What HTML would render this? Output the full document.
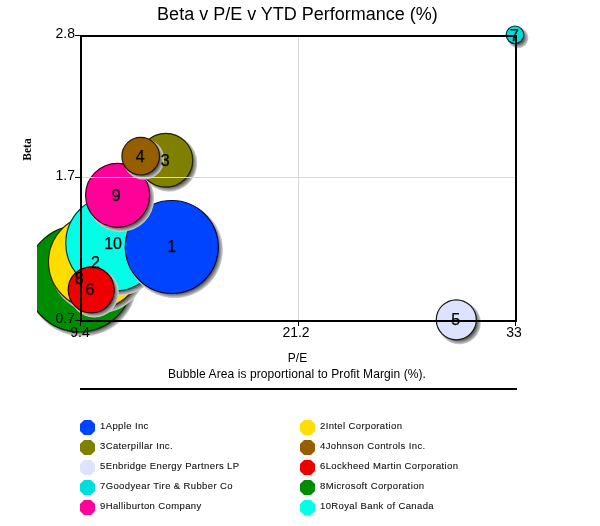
<!DOCTYPE html>
<html><head><meta charset="utf-8">
<style>
html,body{margin:0;padding:0;background:#fff;width:600px;height:526px;overflow:hidden}
svg{display:block;will-change:transform}
text{font-family:"Liberation Sans",sans-serif}
</style></head>
<body>
<svg width="600" height="526" viewBox="0 0 600 526">
<defs>
<filter id="sh" x="-30%" y="-30%" width="160%" height="160%"><feGaussianBlur stdDeviation="1.4"/></filter>
<clipPath id="pc"><rect x="37" y="0" width="563" height="400"/></clipPath>
</defs>
<text x="297.5" y="20" font-size="18" text-anchor="middle" fill="#000">Beta v P/E v YTD Performance (%)</text>
<g clip-path="url(#pc)">

<radialGradient id="g8" cx="0.5" cy="0.5" r="0.5"><stop offset="0" stop-color="#333"/><stop offset="0.8847" stop-color="#333"/><stop offset="0.9366" stop-color="#7a7a7a"/><stop offset="1" stop-color="#d6d6d6"/></radialGradient>
<circle cx="82.4" cy="281.6" r="54.9" fill="url(#g8)"/>
<circle cx="79.4" cy="278.6" r="53.3" fill="#008c00" stroke="#002800" stroke-width="1.2"/>
<radialGradient id="g2" cx="0.5" cy="0.5" r="0.5"><stop offset="0" stop-color="#333"/><stop offset="0.8698" stop-color="#333"/><stop offset="0.9284" stop-color="#7a7a7a"/><stop offset="1" stop-color="#d6d6d6"/></radialGradient>
<circle cx="98.5" cy="264.8" r="48.6" fill="url(#g2)"/>
<circle cx="95.5" cy="261.8" r="47.0" fill="#ffdd00" stroke="#3a2a00" stroke-width="1.2"/>
<radialGradient id="g10" cx="0.5" cy="0.5" r="0.5"><stop offset="0" stop-color="#333"/><stop offset="0.8719" stop-color="#333"/><stop offset="0.9295" stop-color="#7a7a7a"/><stop offset="1" stop-color="#d6d6d6"/></radialGradient>
<circle cx="116.6" cy="246.3" r="49.4" fill="url(#g10)"/>
<circle cx="113.6" cy="243.3" r="47.8" fill="#00ffe6" stroke="#004040" stroke-width="1.2"/>
<radialGradient id="g1" cx="0.5" cy="0.5" r="0.5"><stop offset="0" stop-color="#333"/><stop offset="0.8684" stop-color="#333"/><stop offset="0.9276" stop-color="#7a7a7a"/><stop offset="1" stop-color="#d6d6d6"/></radialGradient>
<circle cx="174.8" cy="250.0" r="48.1" fill="url(#g1)"/>
<circle cx="171.8" cy="247.0" r="46.5" fill="#0044ff" stroke="#000830" stroke-width="1.2"/>
<radialGradient id="g9" cx="0.5" cy="0.5" r="0.5"><stop offset="0" stop-color="#333"/><stop offset="0.8116" stop-color="#333"/><stop offset="0.8964" stop-color="#7a7a7a"/><stop offset="1" stop-color="#d6d6d6"/></radialGradient>
<circle cx="120.6" cy="198.3" r="33.6" fill="url(#g9)"/>
<circle cx="117.6" cy="195.3" r="32.0" fill="#ff0099" stroke="#400018" stroke-width="1.2"/>
<radialGradient id="g3" cx="0.5" cy="0.5" r="0.5"><stop offset="0" stop-color="#333"/><stop offset="0.7779" stop-color="#333"/><stop offset="0.8778" stop-color="#7a7a7a"/><stop offset="1" stop-color="#d6d6d6"/></radialGradient>
<circle cx="168.8" cy="163.2" r="28.5" fill="url(#g3)"/>
<circle cx="165.8" cy="160.2" r="26.9" fill="#808000" stroke="#282000" stroke-width="1.2"/>
<radialGradient id="g6" cx="0.5" cy="0.5" r="0.5"><stop offset="0" stop-color="#333"/><stop offset="0.7427" stop-color="#333"/><stop offset="0.8585" stop-color="#7a7a7a"/><stop offset="1" stop-color="#d6d6d6"/></radialGradient>
<circle cx="94.2" cy="292.8" r="24.6" fill="url(#g6)"/>
<circle cx="91.2" cy="289.8" r="23.0" fill="#ee0000" stroke="#300000" stroke-width="1.2"/>
<radialGradient id="g4" cx="0.5" cy="0.5" r="0.5"><stop offset="0" stop-color="#333"/><stop offset="0.6897" stop-color="#333"/><stop offset="0.8293" stop-color="#7a7a7a"/><stop offset="1" stop-color="#d6d6d6"/></radialGradient>
<circle cx="143.7" cy="159.2" r="20.4" fill="url(#g4)"/>
<circle cx="140.7" cy="156.2" r="18.8" fill="#955f00" stroke="#281800" stroke-width="1.2"/>
<radialGradient id="g5" cx="0.5" cy="0.5" r="0.5"><stop offset="0" stop-color="#333"/><stop offset="0.7069" stop-color="#333"/><stop offset="0.8388" stop-color="#7a7a7a"/><stop offset="1" stop-color="#d6d6d6"/></radialGradient>
<circle cx="459.3" cy="322.8" r="21.6" fill="url(#g5)"/>
<circle cx="456.3" cy="319.8" r="20.0" fill="#dde3ff" stroke="#181818" stroke-width="1.2"/>
<radialGradient id="g7" cx="0.5" cy="0.5" r="0.5"><stop offset="0" stop-color="#333"/><stop offset="0.3913" stop-color="#333"/><stop offset="0.6652" stop-color="#7a7a7a"/><stop offset="1" stop-color="#d6d6d6"/></radialGradient>
<circle cx="518.0" cy="37.8" r="10.4" fill="url(#g7)"/>
<circle cx="515.0" cy="34.8" r="8.8" fill="#00dddd" stroke="#002828" stroke-width="1.2"/>
</g>
<line x1="82" y1="177.5" x2="515" y2="177.5" stroke="#d8d8d8" stroke-width="1"/>
<line x1="298.5" y1="37" x2="298.5" y2="320" stroke="#d8d8d8" stroke-width="1"/>
<rect x="81" y="36" width="435" height="285" fill="none" stroke="#000" stroke-width="2"/>
<g stroke="#000" stroke-width="1">
<line x1="75" y1="35.5" x2="80" y2="35.5"/>
<line x1="75" y1="177.5" x2="80" y2="177.5"/>
<line x1="75" y1="320.5" x2="80" y2="320.5"/>
<line x1="80.5" y1="322" x2="80.5" y2="326"/>
<line x1="298.5" y1="322" x2="298.5" y2="326"/>
<line x1="515.5" y1="322" x2="515.5" y2="326"/>
</g>

<g font-size="16" text-anchor="middle" fill="#000" stroke="#000" stroke-width="0.25">
<text x="171.8" y="251.7">1</text>
<text x="95.5" y="267.5">2</text>
<text x="165.3" y="165.9">3</text>
<text x="140.2" y="161.9">4</text>
<text x="455.7" y="324.7">5</text>
<text x="89.9" y="295.3">6</text>
<text x="514.5" y="40.5">7</text>
<text x="79.1" y="284.3">8</text>
<text x="116.2" y="201.0">9</text>
<text x="113.1" y="249.0">10</text>
</g>
<g font-size="14" fill="#000">
<text x="75" y="38" text-anchor="end">2.8</text>
<text x="75" y="180" text-anchor="end">1.7</text>
<text x="75" y="322.5" text-anchor="end">0.7</text>
<text x="80" y="337" text-anchor="middle">9.4</text>
<text x="296" y="337" text-anchor="middle">21.2</text>
<text x="514" y="337" text-anchor="middle">33</text>
</g>
<text transform="translate(30.8,149.5) rotate(-90)" font-size="11.5" font-weight="bold" text-anchor="middle" style="font-family:'Liberation Serif',serif">Beta</text>
<text x="297.5" y="362" font-size="12" text-anchor="middle">P/E</text>
<text x="297" y="378" font-size="12" text-anchor="middle" letter-spacing="0.08">Bubble Area is proportional to Profit Margin (%).</text>
<line x1="80" y1="389" x2="517" y2="389" stroke="#000" stroke-width="2"/>

<g font-size="9.5" fill="#000" letter-spacing="0.38">
<polygon points="84.10,420.00 90.90,420.00 95.00,424.10 95.00,430.90 90.90,435.00 84.10,435.00 80.00,430.90 80.00,424.10" fill="#0044ff"/>
<text x="100" y="429.0" fill="#111" stroke="#111" stroke-width="0.1">1Apple Inc</text>
<polygon points="304.10,420.00 310.90,420.00 315.00,424.10 315.00,430.90 310.90,435.00 304.10,435.00 300.00,430.90 300.00,424.10" fill="#ffdd00"/>
<text x="320" y="429.0" fill="#111" stroke="#111" stroke-width="0.1">2Intel Corporation</text>
<polygon points="84.10,440.00 90.90,440.00 95.00,444.10 95.00,450.90 90.90,455.00 84.10,455.00 80.00,450.90 80.00,444.10" fill="#808000"/>
<text x="100" y="449.0" fill="#111" stroke="#111" stroke-width="0.1">3Caterpillar Inc.</text>
<polygon points="304.10,440.00 310.90,440.00 315.00,444.10 315.00,450.90 310.90,455.00 304.10,455.00 300.00,450.90 300.00,444.10" fill="#955f00"/>
<text x="320" y="449.0" fill="#111" stroke="#111" stroke-width="0.1">4Johnson Controls Inc.</text>
<polygon points="84.10,460.00 90.90,460.00 95.00,464.10 95.00,470.90 90.90,475.00 84.10,475.00 80.00,470.90 80.00,464.10" fill="#dde3ff"/>
<text x="100" y="469.0" fill="#111" stroke="#111" stroke-width="0.1">5Enbridge Energy Partners LP</text>
<polygon points="304.10,460.00 310.90,460.00 315.00,464.10 315.00,470.90 310.90,475.00 304.10,475.00 300.00,470.90 300.00,464.10" fill="#ee0000"/>
<text x="320" y="469.0" fill="#111" stroke="#111" stroke-width="0.1">6Lockheed Martin Corporation</text>
<polygon points="84.10,480.00 90.90,480.00 95.00,484.10 95.00,490.90 90.90,495.00 84.10,495.00 80.00,490.90 80.00,484.10" fill="#00dddd"/>
<text x="100" y="489.0" fill="#111" stroke="#111" stroke-width="0.1">7Goodyear Tire &amp; Rubber Co</text>
<polygon points="304.10,480.00 310.90,480.00 315.00,484.10 315.00,490.90 310.90,495.00 304.10,495.00 300.00,490.90 300.00,484.10" fill="#008c00"/>
<text x="320" y="489.0" fill="#111" stroke="#111" stroke-width="0.1">8Microsoft Corporation</text>
<polygon points="84.10,500.00 90.90,500.00 95.00,504.10 95.00,510.90 90.90,515.00 84.10,515.00 80.00,510.90 80.00,504.10" fill="#ff0099"/>
<text x="100" y="509.0" fill="#111" stroke="#111" stroke-width="0.1">9Halliburton Company</text>
<polygon points="304.10,500.00 310.90,500.00 315.00,504.10 315.00,510.90 310.90,515.00 304.10,515.00 300.00,510.90 300.00,504.10" fill="#00ffe6"/>
<text x="320" y="509.0" fill="#111" stroke="#111" stroke-width="0.1">10Royal Bank of Canada</text>
</g>
</svg>
</body></html>
